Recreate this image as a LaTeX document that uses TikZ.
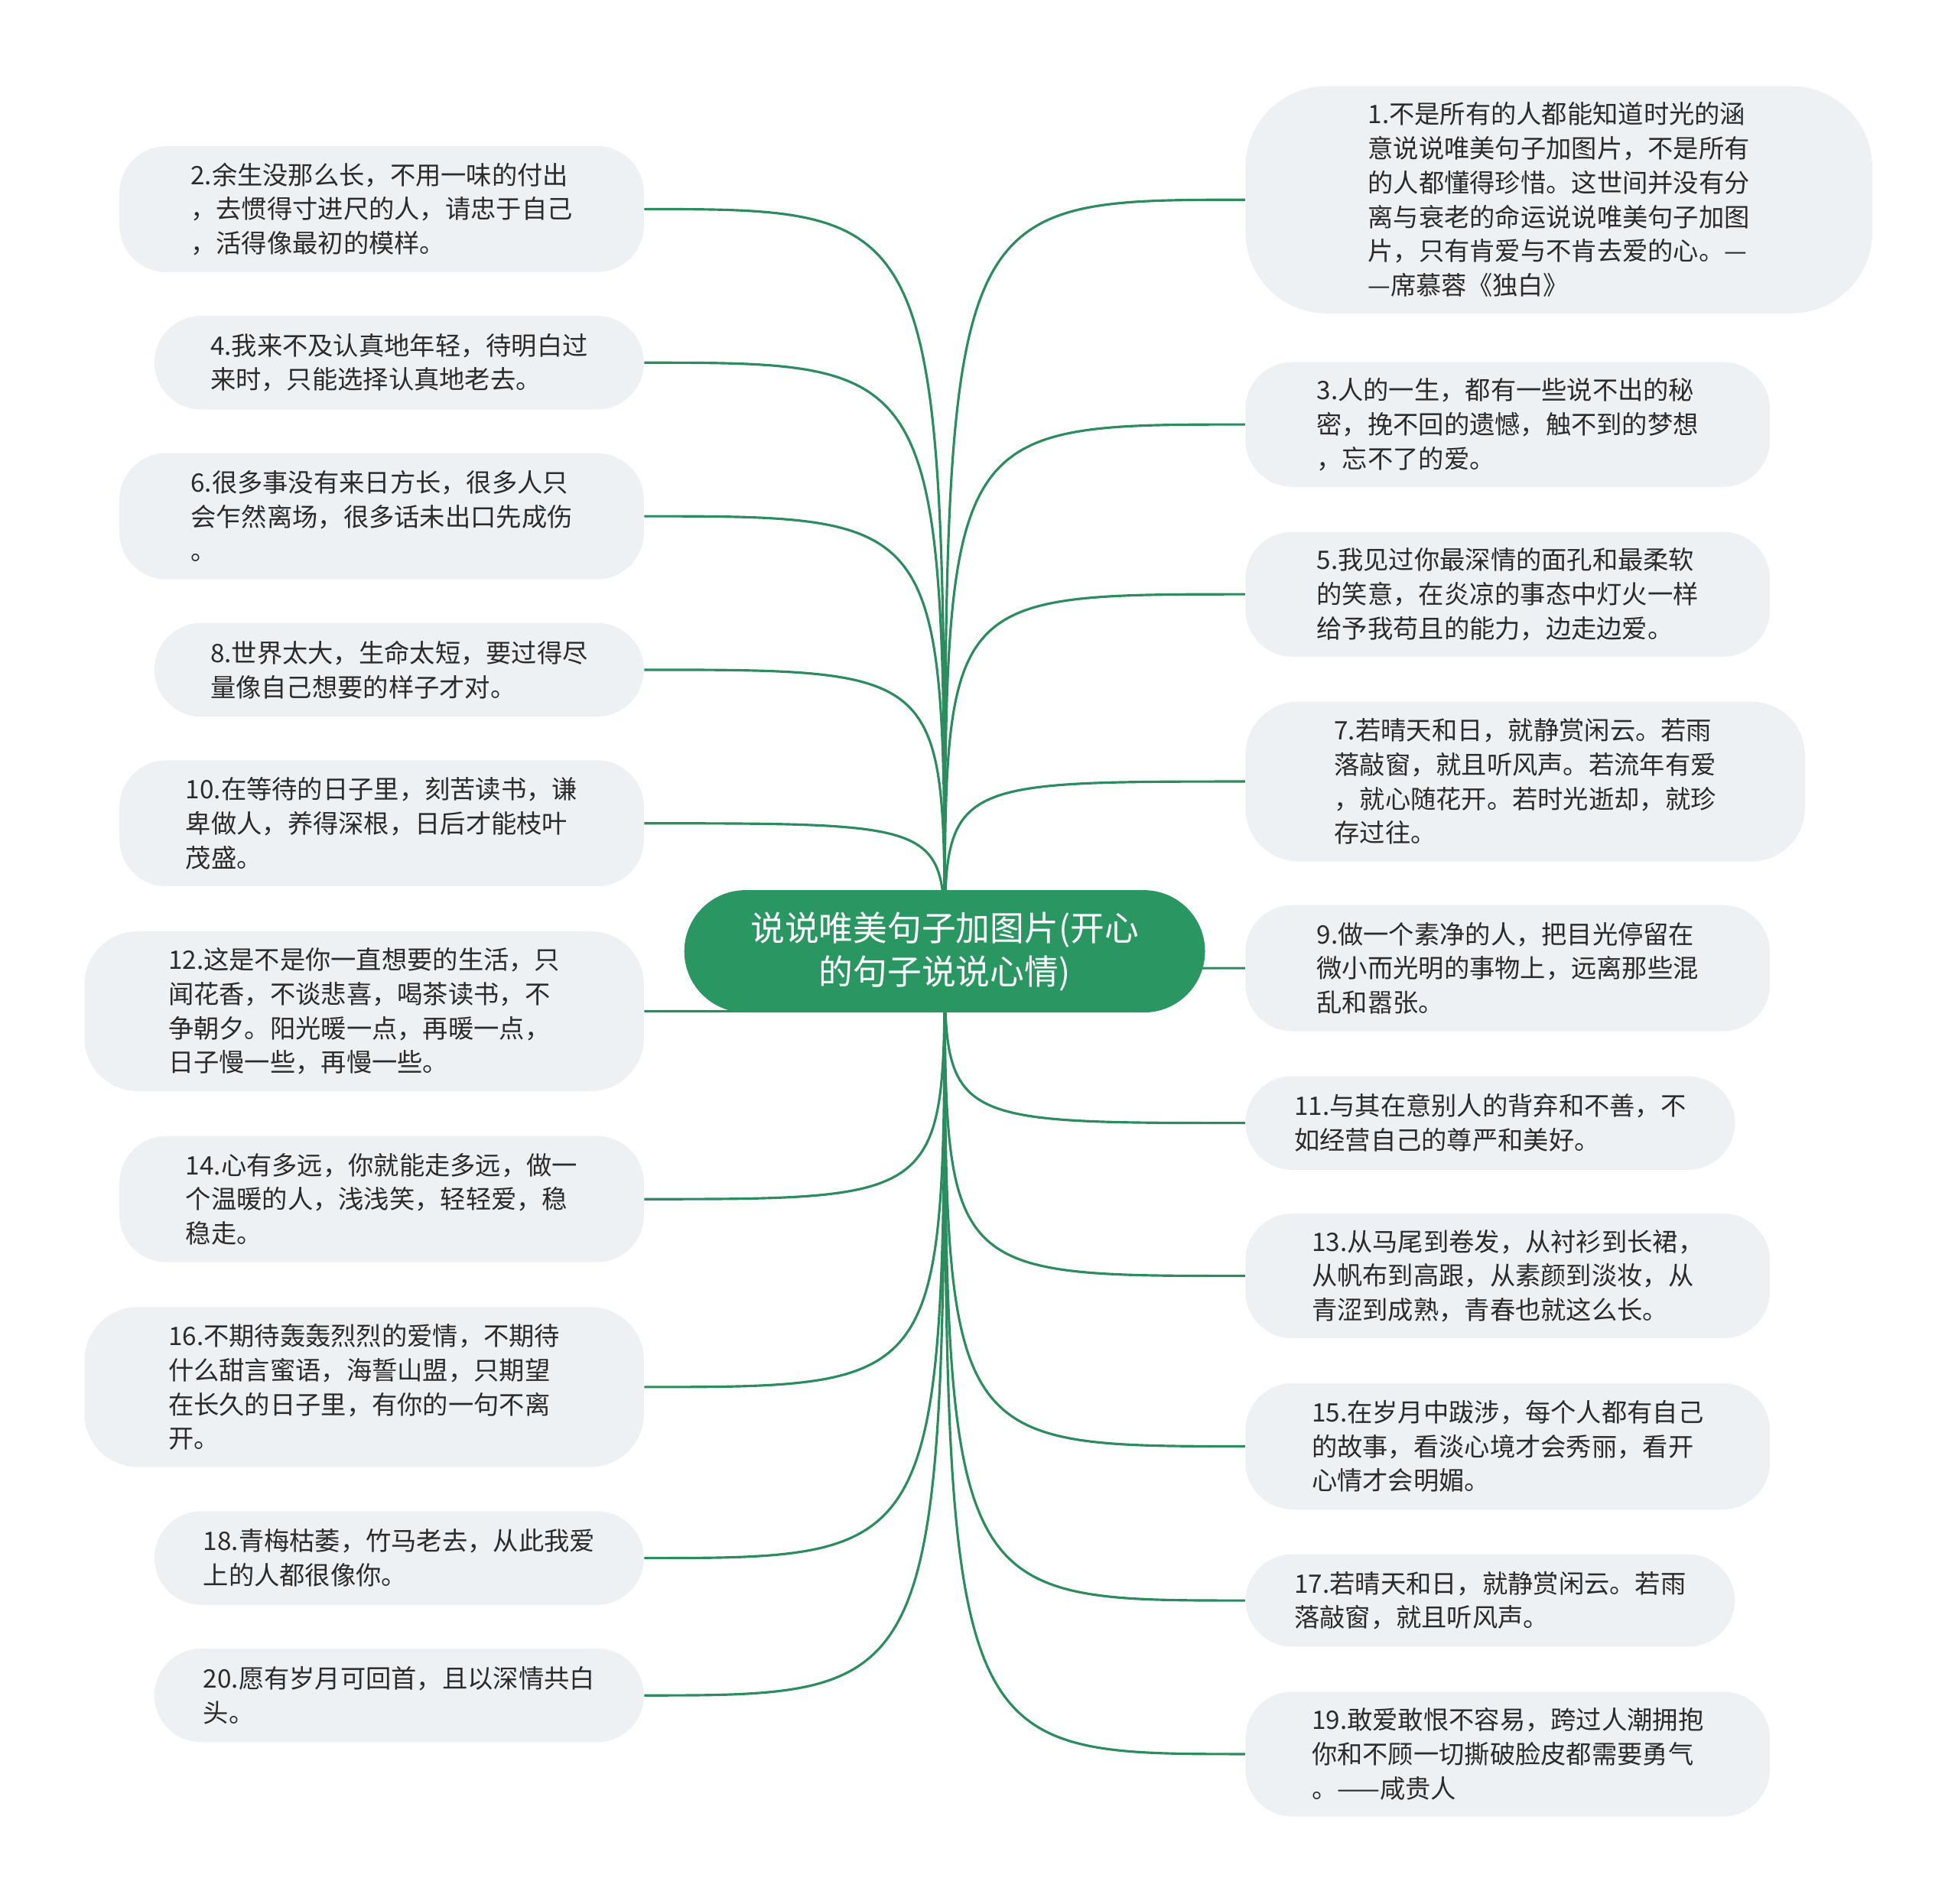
\documentclass[tikz,border=0pt]{standalone}
\usepackage{fontspec}
\setmainfont{Noto Sans CJK SC}
\usetikzlibrary{backgrounds}
\definecolor{rootgreen}{HTML}{2A9763}
\definecolor{linkgreen}{HTML}{2B8C5E}
\definecolor{leafgray}{HTML}{EEF1F4}
\definecolor{leaftext}{HTML}{2B2B2B}
\tikzset{
	leaf/.style={fill=leafgray, rounded corners=0.75cm, align=left, text=leaftext, inner sep=0pt,
		font=\fontsize{11.6}{15.6}\selectfont},
	root/.style={fill=rootgreen, rounded corners=0.98cm, align=center, text=white, inner sep=0pt,
		minimum width=8.34cm, minimum height=1.96cm, font=\fontsize{15.6}{19.9}\selectfont},
	link/.style={draw=linkgreen, line width=1.1pt},
}

\begin{document}
\begin{tikzpicture}
			%%%%% START %%%%%
			
			\useasboundingbox (0, 0) rectangle (31.36, -30.5);
			
			\node[root] (root) at (15.13, -15.24) {说说唯美句子加图片(开心\\的句子说说心情)};
			
			% left side
			\node[leaf, minimum width=8.40cm, minimum height=2.02cm, anchor=east] (n2) at (10.32, -3.35) {2.余生没那么长，不用一味的付出\\，去惯得寸进尺的人，请忠于自己\\，活得像最初的模样。};
			\node[leaf, minimum width=7.84cm, minimum height=1.50cm, anchor=east] (n4) at (10.32, -5.81) {4.我来不及认真地年轻，待明白过\\来时，只能选择认真地老去。};
			\node[leaf, minimum width=8.40cm, minimum height=2.02cm, anchor=east] (n6) at (10.32, -8.27) {6.很多事没有来日方长，很多人只\\会乍然离场，很多话未出口先成伤\\。};
			\node[leaf, minimum width=7.84cm, minimum height=1.50cm, anchor=east] (n8) at (10.32, -10.73) {8.世界太大，生命太短，要过得尽\\量像自己想要的样子才对。};
			\node[leaf, minimum width=8.40cm, minimum height=2.02cm, anchor=east] (n10) at (10.32, -13.19) {10.在等待的日子里，刻苦读书，谦\\卑做人，养得深根，日后才能枝叶\\茂盛。};
			\node[leaf, minimum width=8.96cm, minimum height=2.56cm, rounded corners=0.85cm, anchor=east] (n12) at (10.32, -16.20) {12.这是不是你一直想要的生活，只\\闻花香，不谈悲喜，喝茶读书，不\\争朝夕。阳光暖一点，再暖一点，\\日子慢一些，再慢一些。};
			\node[leaf, minimum width=8.40cm, minimum height=2.02cm, anchor=east] (n14) at (10.32, -19.21) {14.心有多远，你就能走多远，做一\\个温暖的人，浅浅笑，轻轻爱，稳\\稳走。};
			\node[leaf, minimum width=8.96cm, minimum height=2.56cm, rounded corners=0.85cm, anchor=east] (n16) at (10.32, -22.22) {16.不期待轰轰烈烈的爱情，不期待\\什么甜言蜜语，海誓山盟，只期望\\在长久的日子里，有你的一句不离\\开。};
			\node[leaf, minimum width=7.84cm, minimum height=1.50cm, anchor=east] (n18) at (10.32, -24.96) {18.青梅枯萎，竹马老去，从此我爱\\上的人都很像你。};
			\node[leaf, minimum width=7.84cm, minimum height=1.50cm, anchor=east] (n20) at (10.32, -27.16) {20.愿有岁月可回首，且以深情共白\\头。};
			
			% right side
			\node[leaf, minimum width=10.04cm, minimum height=3.64cm, rounded corners=1.3cm, anchor=west] (n1) at (19.94, -3.20) {1.不是所有的人都能知道时光的涵\\意说说唯美句子加图片，不是所有\\的人都懂得珍惜。这世间并没有分\\离与衰老的命运说说唯美句子加图\\片，只有肯爱与不肯去爱的心。—\\—席慕蓉《独白》};
			\node[leaf, minimum width=8.40cm, minimum height=2.00cm, anchor=west] (n3) at (19.94, -6.80) {3.人的一生，都有一些说不出的秘\\密，挽不回的遗憾，触不到的梦想\\，忘不了的爱。};
			\node[leaf, minimum width=8.40cm, minimum height=2.00cm, anchor=west] (n5) at (19.94, -9.52) {5.我见过你最深情的面孔和最柔软\\的笑意，在炎凉的事态中灯火一样\\给予我苟且的能力，边走边爱。};
			\node[leaf, minimum width=8.96cm, minimum height=2.56cm, rounded corners=0.85cm, anchor=west] (n7) at (19.94, -12.52) {7.若晴天和日，就静赏闲云。若雨\\落敲窗，就且听风声。若流年有爱\\，就心随花开。若时光逝却，就珍\\存过往。};
			\node[leaf, minimum width=8.40cm, minimum height=2.02cm, anchor=west] (n9) at (19.94, -15.51) {9.做一个素净的人，把目光停留在\\微小而光明的事物上，远离那些混\\乱和嚣张。};
			\node[leaf, minimum width=7.84cm, minimum height=1.50cm, anchor=west] (n11) at (19.94, -17.99) {11.与其在意别人的背弃和不善，不\\如经营自己的尊严和美好。};
			\node[leaf, minimum width=8.40cm, minimum height=2.00cm, anchor=west] (n13) at (19.94, -20.44) {13.从马尾到卷发，从衬衫到长裙，\\从帆布到高跟，从素颜到淡妆，从\\青涩到成熟，青春也就这么长。};
			\node[leaf, minimum width=8.40cm, minimum height=2.02cm, anchor=west] (n15) at (19.94, -23.17) {15.在岁月中跋涉，每个人都有自己\\的故事，看淡心境才会秀丽，看开\\心情才会明媚。};
			\node[leaf, minimum width=7.84cm, minimum height=1.48cm, anchor=west] (n17) at (19.94, -25.64) {17.若晴天和日，就静赏闲云。若雨\\落敲窗，就且听风声。};
			\node[leaf, minimum width=8.40cm, minimum height=2.00cm, anchor=west] (n19) at (19.94, -28.10) {19.敢爱敢恨不容易，跨过人潮拥抱\\你和不顾一切撕破脸皮都需要勇气\\。——咸贵人};
			
			% links
			\begin{scope}[on background layer]
				\foreach \n in {n2,n4,n6,n8,n10,n12,n14,n16,n18,n20}
					\draw[link] (root.center) .. controls (root.center |- \n.east) .. (\n.east);
				\foreach \n in {n1,n3,n5,n7,n9,n11,n13,n15,n17,n19}
					\draw[link] (root.center) .. controls (root.center |- \n.west) .. (\n.west);
			\end{scope}
			
			%%%%% END %%%%%
\end{tikzpicture}
\end{document}
